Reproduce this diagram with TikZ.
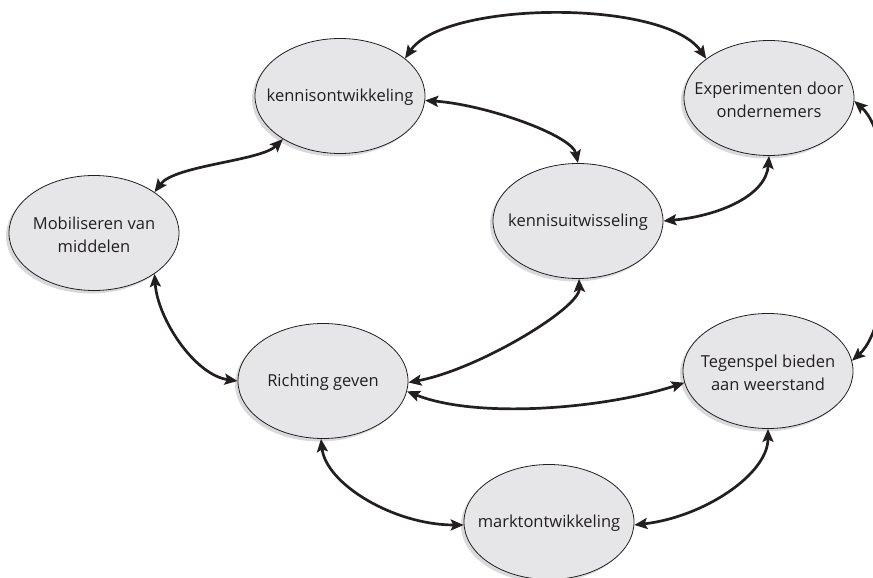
\documentclass[tikz,border=0pt]{standalone}
\usepackage{fontspec}
\setmainfont{Open Sans}
\usetikzlibrary{shapes.geometric,arrows.meta,shadows}

\definecolor{inkline}{HTML}{231F20}
\definecolor{bubble}{HTML}{E6E6E8}
\definecolor{bubbleshade}{HTML}{D9D9DB}
\definecolor{labelink}{HTML}{231F20}

\tikzset{
  bubblenode/.style={
    ellipse, draw=inkline, line width=0.8pt, fill=bubble,
    minimum width=170pt, minimum height=115pt, inner sep=0pt,
    drop shadow={shadow xshift=-3pt, shadow yshift=-3pt,
                 fill=bubbleshade, opacity=1}},
  bubbletext/.style={
    align=center, text=labelink, inner sep=0pt,
    font=\fontsize{16.5}{23}\selectfont},
  twoway/.style={
    draw=inkline, line width=2.7pt,
    {Stealth[length=13pt,width=11pt,inset=2.5pt]}-{Stealth[length=13pt,width=11pt,inset=2.5pt]}}
}

\begin{document}
\begin{tikzpicture}[x=1pt,y=-1pt]
  \useasboundingbox (0,0) rectangle (873,578);
  \clip (0,0) rectangle (873,578);

  % the seven system functions
  \node[bubblenode] (ko)  at (340,96)  {};
  \node[bubblenode] (exp) at (769,98)  {};
  \node[bubblenode] (mob) at (94,233)  {};
  \node[bubblenode] (ku)  at (578,221) {};
  \node[bubblenode] (rg)  at (323,381) {};
  \node[bubblenode] (teg) at (768,371) {};
  \node[bubblenode] (mk)  at (549,522) {};

  \node[bubbletext] (ko-t)  at ([yshift=-1.5pt]ko.center)  {kennisontwikkeling};
  \node[bubbletext] (exp-t) at ([yshift=-1.5pt]exp.center) {Experimenten door\\ondernemers};
  \node[bubbletext] (mob-t) at ([yshift=-1.5pt]mob.center) {Mobiliseren van\\middelen};
  \node[bubbletext] (ku-t)  at ([yshift=-1.5pt]ku.center)  {kennisuitwisseling};
  \node[bubbletext] (rg-t)  at ([yshift=-1.5pt]rg.center)  {Richting geven};
  \node[bubbletext] (teg-t) at ([yshift=-1.5pt]teg.center) {Tegenspel bieden\\aan weerstand};
  \node[bubbletext] (mk-t)  at ([yshift=-1.5pt]mk.center)  {marktontwikkeling};

  % mutual influences
  \draw[twoway] (ko.30)   .. controls +(40,-58) and +(-42,-60) .. (exp.148.5);
  \draw[twoway] (ko.-3)   .. controls +(60,4)   and +(-6,-28)  .. (ku.90);
  \draw[twoway] (ko.-143) .. controls +(-22,22) and +(20,-27)  .. (mob.34);
  \draw[twoway] (mob.-34) .. controls +(3,45)   and +(-43,-6)  .. (rg.180);
  \draw[twoway] (rg.-1)   .. controls +(70,-13) and +(1,29)    .. (ku.-89);
  \draw[twoway] (rg.-7)   .. controls +(70,28)  and +(-80,26)  .. (teg.188);
  \draw[twoway] (exp.-90) .. controls +(-3,40)  and +(55,-5)   .. (ku.0);
  \draw[twoway] (exp.-2)  .. controls +(45,40)  and +(45,-40)  .. (teg.7);
  \draw[twoway] (rg.-92)  .. controls +(5,45)   and +(-70,0)   .. (mk.182);
  \draw[twoway] (mk.-2)   .. controls +(70,-8)  and +(0,45)    .. (teg.-90);
\end{tikzpicture}
\end{document}
